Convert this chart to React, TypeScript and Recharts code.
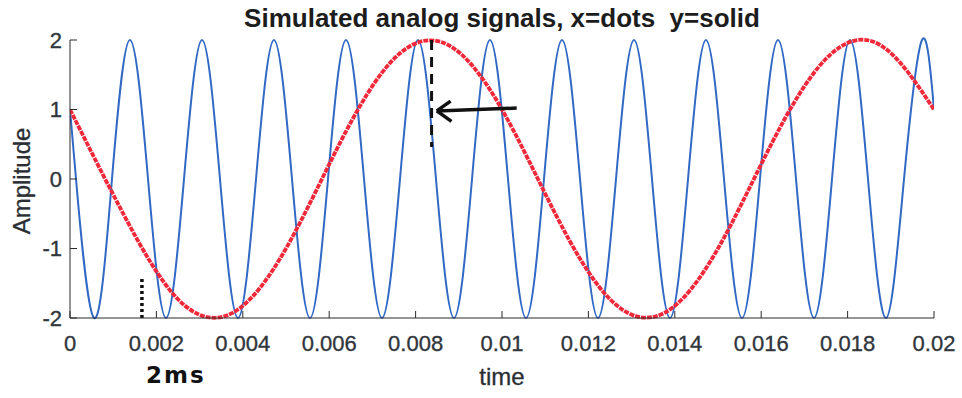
import React from "react";
import { LineChart, Line, XAxis, YAxis, ReferenceLine } from "recharts";

// time ticks (s) and amplitude ticks
const timeTicks = [0, 0.002, 0.004, 0.006, 0.008, 0.01, 0.012, 0.014, 0.016, 0.018, 0.02];
const ampTicks = [-2, -1, 0, 1, 2];

// x = dots (red), read every 1.25 ms
const xTime = [
  0, 0.00125, 0.0025, 0.00375, 0.005, 0.00625, 0.0075, 0.00875, 0.01,
  0.01125, 0.0125, 0.01375, 0.015, 0.01625, 0.0175, 0.01875, 0.02,
];
const xDots = [
  1, -0.52, -1.73, -1.93, -1, 0.52, 1.73, 1.93, 1,
  -0.52, -1.73, -1.93, -1, 0.52, 1.73, 1.93, 1,
];

// y = solid (blue), read at start, zero crossings, peaks, troughs
const yTime = [
  0, 0.000139, 0.000556, 0.000972, 0.001389, 0.001806, 0.002222, 0.002639, 0.003056, 0.003472,
  0.003889, 0.004306, 0.004722, 0.005139, 0.005556, 0.005972, 0.006389, 0.006806, 0.007222, 0.007639,
  0.008056, 0.008472, 0.008889, 0.009306, 0.009722, 0.010139, 0.010556, 0.010972, 0.011389, 0.011806,
  0.012222, 0.012639, 0.013056, 0.013472, 0.013889, 0.014306, 0.014722, 0.015139, 0.015556, 0.015972,
  0.016389, 0.016806, 0.017222, 0.017639, 0.018056, 0.018472, 0.018889, 0.019306, 0.019722, 0.02,
];
const ySolid = [
  1, 0, -2, 0, 2, 0, -2, 0, 2, 0,
  -2, 0, 2, 0, -2, 0, 2, 0, -2, 0,
  2, 0, -2, 0, 2, 0, -2, 0, 2, 0,
  -2, 0, 2, 0, -2, 0, 2, 0, -2, 0,
  2, 0, -2, 0, 2, 0, -2, 0, 2, 1,
];

const xData = xTime.map((t, i) => ({ t, v: xDots[i] }));
const yData = yTime.map((t, i) => ({ t, v: ySolid[i] }));

const font = "'Liberation Sans', Arial, sans-serif";
const axisColor = "#2b2b2b";
const ink = "#111";
const tickStyle = { fontSize: 22, fill: "#30363c", fontFamily: font, stroke: "#30363c", strokeWidth: 0.35 };

export default function App() {
  return (
    <div style={{ position: "absolute", left: 0, top: 0, width: 962, height: 398, background: "#fff", fontFamily: font }}>
      <div style={{ position: "absolute", left: 0, width: 1004, top: 3, textAlign: "center", fontSize: 26, fontWeight: "bold", color: "#1c1c1c", whiteSpace: "pre" }}>
        {"Simulated analog signals, x=dots  y=solid"}
      </div>
      <LineChart width={962} height={398} data={yData} margin={{ top: 40, right: 28, bottom: 30, left: 30 }}>
        <XAxis xAxisId={0} dataKey="t" type="number" domain={[0, 0.02]} ticks={timeTicks} allowDataOverflow
          height={50} tickSize={-7} tickMargin={24} stroke={axisColor}
          tick={tickStyle} tickFormatter={(v: number) => String(v)} />
        <XAxis xAxisId="top" orientation="top" dataKey="t" type="number" domain={[0, 0.02]} ticks={timeTicks}
          height={0} tickSize={-7} tick={false} stroke={axisColor} />
        <YAxis yAxisId={0} type="number" domain={[-2, 2]} ticks={ampTicks} width={40}
          tickSize={-7} tickMargin={15} stroke={axisColor} tick={tickStyle} />
        <YAxis yAxisId="right" orientation="right" type="number" domain={[-2, 2]} ticks={ampTicks} width={0}
          tickSize={-7} tick={false} stroke={axisColor} />
        <Line data={yData} dataKey="v" type="natural" stroke="#3169c4" strokeWidth={2} dot={false} isAnimationActive={false} />
        <Line data={xData} dataKey="v" type="natural" stroke="#f0283a" strokeWidth={3.8} strokeDasharray="5 1" dot={false} isAnimationActive={false} />
        {/* hand-drawn marks */}
        <ReferenceLine segment={[{ x: 0.00837, y: 2 }, { x: 0.00837, y: 0.46 }]} stroke={ink} strokeWidth={3} strokeDasharray="10 7" />
        <ReferenceLine segment={[{ x: 0.001665, y: -1.44 }, { x: 0.001665, y: -2 }]} stroke={ink} strokeWidth={3.5} strokeDasharray="3 3" />
        <ReferenceLine segment={[{ x: 0.01034, y: 1.02 }, { x: 0.00849, y: 0.98 }]} stroke={ink} strokeWidth={3.5} />
        <ReferenceLine segment={[{ x: 0.00849, y: 0.98 }, { x: 0.00881, y: 1.12 }]} stroke={ink} strokeWidth={3.5} />
        <ReferenceLine segment={[{ x: 0.00849, y: 0.98 }, { x: 0.00883, y: 0.83 }]} stroke={ink} strokeWidth={3.5} />
      </LineChart>
      <div style={{ position: "absolute", left: 0, width: 1004, top: 363, textAlign: "center", fontSize: 24, color: "#2a2e33", WebkitTextStroke: "0.3px #2a2e33" }}>time</div>
      <div style={{ position: "absolute", left: 22, top: 181, transform: "translate(-50%, -50%) rotate(-90deg)", fontSize: 24, color: "#2a2e33", whiteSpace: "nowrap", WebkitTextStroke: "0.3px #2a2e33" }}>Amplitude</div>
      <div style={{ position: "absolute", left: 146, top: 362, fontSize: 23, fontWeight: "bold", color: ink, letterSpacing: 2, fontFamily: "'DejaVu Sans', sans-serif" }}>2ms</div>
    </div>
  );
}
